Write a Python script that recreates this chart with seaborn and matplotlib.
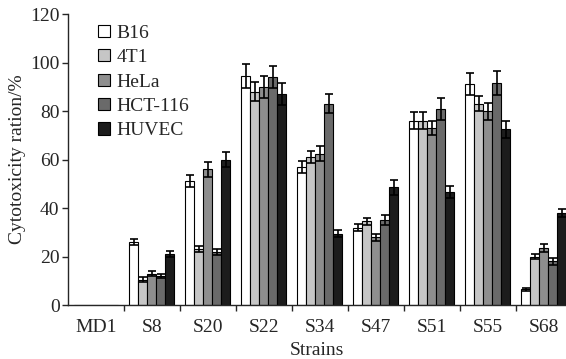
import pandas as pd
import matplotlib.pyplot as plt
import seaborn as sns

# 数据
strains = ['MD1', 'S8', 'S20', 'S22', 'S34', 'S47', 'S51', 'S55', 'S68']
cells = ['B16', '4T1', 'HeLa', 'HCT-116', 'HUVEC']
b16 = [0, 26, 51, 94.5, 57, 32, 76, 91, 6.5]
t41 = [0, 10.5, 23, 88, 61, 34.5, 76, 83, 20]
hela = [0, 13, 56, 90, 62.5, 28, 73, 80, 23.5]
hct116 = [0, 12, 22, 94, 83, 35, 81, 91.5, 18]
huvec = [0, 21, 60, 87, 29.5, 48.5, 46.5, 72.5, 38]
err_b16 = [0, 1.3, 2.5, 5, 2.5, 1.5, 3.5, 4.5, 0.5]
err_4t1 = [0, 1, 1.2, 4, 2.5, 1.5, 3.5, 3, 1]
err_hela = [0, 1, 3, 4.5, 3, 1.5, 3, 3.5, 1.5]
err_hct = [0, 1, 1.2, 4.5, 4, 2, 4.5, 5, 1.5]
err_huvec = [0, 1.3, 3, 4.5, 1.5, 3, 2.5, 3.5, 1.8]

values = [b16, t41, hela, hct116, huvec]
errors = [err_b16, err_4t1, err_hela, err_hct, err_huvec]
colors = ['#ffffff', '#c6c6c6', '#8e8e8e', '#6a6a6a', '#1c1c1c']

rows = []
for c, vals in zip(cells, values):
    for s, v in zip(strains, vals):
        rows.append({'Strains': s, 'Cell': c, 'Value': v})
df = pd.DataFrame(rows)

sns.set_style('ticks')
plt.rcParams['font.family'] = ['Liberation Serif', 'DejaVu Serif']

fig = plt.figure(figsize=(5.66, 3.59), dpi=100)
ax = fig.add_axes([0.12, 0.15, 0.88, 0.811])

sns.barplot(data=df, x='Strains', y='Value', hue='Cell', order=strains,
            hue_order=cells, palette=colors, errorbar=None, width=0.8,
            edgecolor='black', linewidth=0.8, saturation=1, ax=ax)

# 误差线
for cont, errs in zip(ax.containers, errors):
    for bar, e in zip(cont, errs):
        if bar.get_height() <= 0:
            continue
        x = bar.get_x() + bar.get_width() / 2
        ax.errorbar(x, bar.get_height(), yerr=e, color='black', capsize=3,
                    elinewidth=1.2, capthick=1.2, fmt='none')

ax.set_xlim(-0.5, 8.4)
ax.set_ylim(0, 120)
ax.set_yticks(range(0, 121, 20))
ax.set_xticks(range(len(strains)))
ax.set_xticklabels(strains)
ax.set_xticks([i + 0.5 for i in range(len(strains) - 1)], minor=True)
ax.tick_params(axis='x', which='major', length=0, pad=10, labelsize=14)
ax.tick_params(axis='x', which='minor', length=4, width=1)
ax.tick_params(axis='y', length=4, width=1, labelsize=14, pad=2)
for sp in ['top', 'right']:
    ax.spines[sp].set_visible(False)
ax.spines['left'].set_linewidth(1)
ax.spines['bottom'].set_linewidth(1)

ax.set_xlabel('Strains', fontsize=14, labelpad=4)
ax.set_ylabel('Cytotoxicity ration/%', fontsize=14, labelpad=3)

ax.legend(loc='upper left', bbox_to_anchor=(0.045, 0.99), frameon=False,
          fontsize=14, handlelength=0.6, handleheight=0.6,
          handletextpad=0.35, labelspacing=0.38, borderaxespad=0)

fig.savefig('out.png', dpi=100)
